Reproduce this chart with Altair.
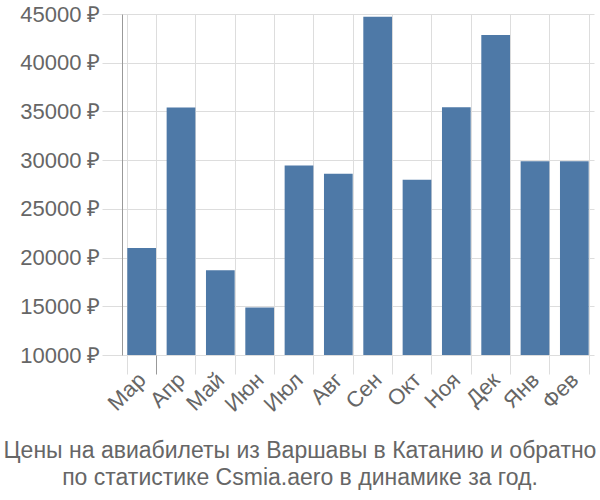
import altair as alt
import pandas as pd

months = ["Мар", "Апр", "Май", "Июн", "Июл", "Авг", "Сен", "Окт", "Ноя", "Дек", "Янв", "Фев"]
prices = [20970, 35400, 18700, 14870, 29450, 28600, 44720, 28000, 35420, 42850, 29880, 29880]
y_ticks = [10000, 15000, 20000, 25000, 30000, 35000, 40000, 45000]
title_lines = ["Цены на авиабилеты из Варшавы в Катанию и обратно",
               "по статистике Csmia.aero в динамике за год."]

df = pd.DataFrame({"month": months, "price": prices})

FONT = "Liberation Sans"

chart = alt.Chart(df).mark_bar(color="#4e79a7").encode(
    x=alt.X("month:N", sort=months, title=None,
            scale=alt.Scale(paddingInner=0.27, paddingOuter=0.135),
            axis=alt.Axis(labelAngle=-45, labelAlign="right", labelBaseline="middle",
                          tickBand="extent", grid=True, gridColor="#dddddd",
                          tickColor=alt.condition("datum.value == 'Мар'",
                                                  alt.value("#999999"), alt.value("#dddddd")),
                          tickSize=19, domain=False,
                          labelFontSize=22, labelColor="#666666", labelFont=FONT,
                          labelPadding=2)),
    y=alt.Y("price:Q", title=None,
            scale=alt.Scale(domain=[10000, 45000], zero=False, nice=False),
            axis=alt.Axis(values=y_ticks, labelExpr="datum.value + ' ₽'",
                          grid=True, gridColor="#dddddd", tickColor="#dddddd",
                          tickSize=20, domainColor="#999999", labelPadding=2,
                          labelFontSize=22, labelColor="#666666", labelFont=FONT)),
    y2=alt.datum(10000),
).properties(
    width=472,
    height=341,
    autosize=alt.AutoSizeParams(type="none"),
    padding={"left": 122, "top": 14, "right": 6, "bottom": 145},
    title=alt.TitleParams(text=title_lines, orient="bottom", anchor="middle",
                          frame="group", dx=-58,
                          fontSize=23, font=FONT, color="#666666", fontWeight="normal",
                          lineHeight=27, offset=25),
).configure_view(stroke=None)

chart.save("out.html", embed_options={"renderer": "svg", "actions": False})
